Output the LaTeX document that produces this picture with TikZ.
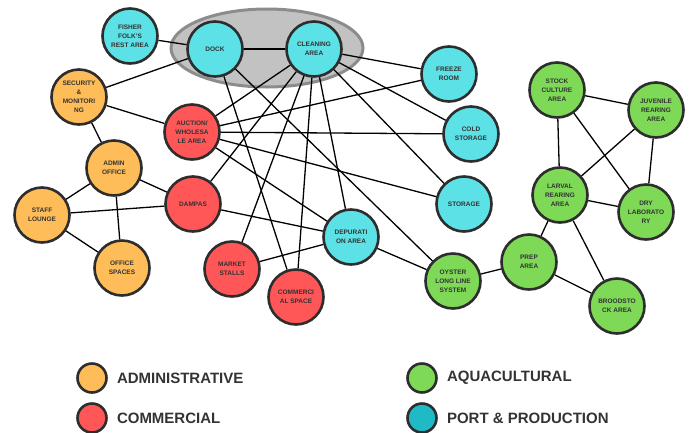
\documentclass[tikz,border=0pt]{standalone}
\usepackage{fontspec}
\setmainfont{Liberation Sans}
\usepackage{tikz}
\usetikzlibrary{positioning, shapes.geometric}

\definecolor{admcol}{HTML}{FFBD59}
\definecolor{comcol}{HTML}{FF5757}
\definecolor{aqucol}{HTML}{7ED957}
\definecolor{portcol}{HTML}{5CE1E6}
\definecolor{portdark}{HTML}{1FBAC6}
\definecolor{rimcol}{HTML}{2D2D2D}
\definecolor{labcol}{HTML}{333333}

\begin{document}
\begin{tikzpicture}[x=1pt, y=-1pt,
	area/.style={circle, draw=rimcol, line width=2.6pt, minimum size=55pt, inner sep=0pt, align=center, text=labcol, font=\fontsize{6.5}{9}\selectfont\bfseries},
	adm/.style={area, fill=admcol},
	com/.style={area, fill=comcol},
	aqu/.style={area, fill=aqucol},
	prt/.style={area, fill=portcol},
	link/.style={line width=1.3pt},
	legtext/.style={inner sep=0pt, text=labcol, font=\fontsize{15}{15}\selectfont\bfseries}]
					\useasboundingbox (0,0) rectangle (691,432);
					% port zone
					\node[ellipse, draw=black!45, fill=black!24, line width=3pt, minimum width=192pt, minimum height=78pt] (zone) at (267,48) {};
					
					\node[prt] (fisher) at (130,36) {FISHER\\FOLK’S\\REST AREA};
					\node[prt] (dock) at (215,49) {DOCK};
					\node[prt] (cleaning) at (314,49) {CLEANING\\AREA};
					\node[prt] (freeze) at (449,74) {FREEZE\\ROOM};
					\node[prt] (cold) at (471,134) {COLD\\STORAGE};
					\node[prt] (storage) at (464,204) {STORAGE};
					\node[prt] (depur) at (351,237) {DEPURATI\\ON AREA};
					
					\node[adm] (security) at (79,97) {SECURITY\\\&\\MONITORI\\NG};
					\node[adm] (admin) at (114,168) {ADMIN\\OFFICE};
					\node[adm] (staff) at (42,215) {STAFF\\LOUNGE};
					\node[adm] (office) at (122,268) {OFFICE\\SPACES};
					
					\node[com] (auction) at (192,132) {AUCTION/\\WHOLESA\\LE AREA};
					\node[com] (dampas) at (193,204) {DAMPAS};
					\node[com] (market) at (232,269) {MARKET\\STALLS};
					\node[com] (commspace) at (296,297) {COMMERCI\\AL SPACE};
					
					\node[aqu] (oyster) at (453,281) {OYSTER\\LONG LINE\\SYSTEM};
					\node[aqu] (prep) at (529,262) {PREP\\AREA};
					\node[aqu] (brood) at (617,306) {BROODSTO\\CK AREA};
					\node[aqu] (stock) at (557,90) {STOCK\\CULTURE\\AREA};
					\node[aqu] (juvenile) at (656,110) {JUVENILE\\REARING\\AREA};
					\node[aqu] (larval) at (560,195) {LARVAL\\REARING\\AREA};
					\node[aqu] (drylab) at (646,212) {DRY\\LABORATO\\RY};
					
					% port links
					\draw[link] (fisher) -- (dock);
					\draw[link] (dock) -- (cleaning);
					\draw[link] (dock) -- (security);
					\draw[link] (dock) -- (commspace);
					\draw[link] (dock) -- (oyster);
					\draw[link] (cleaning) -- (auction);
					\draw[link] (cleaning) -- (dampas);
					\draw[link] (cleaning) -- (market);
					\draw[link] (cleaning) -- (commspace);
					\draw[link] (cleaning) -- (depur);
					\draw[link] (cleaning) -- (freeze);
					\draw[link] (cleaning) -- (cold);
					\draw[link] (cleaning) -- (storage);
					\draw[link] (depur) -- (oyster);
					
					% admin and commercial links
					\draw[link] (security) -- (auction);
					\draw[link] (security) -- (admin);
					\draw[link] (admin) -- (staff);
					\draw[link] (admin) -- (dampas);
					\draw[link] (admin) -- (office);
					\draw[link] (staff) -- (dampas);
					\draw[link] (staff) -- (office);
					\draw[link] (auction) -- (freeze);
					\draw[link] (auction) -- (cold);
					\draw[link] (auction) -- (storage);
					\draw[link] (auction) -- (depur);
					\draw[link] (dampas) -- (depur);
					\draw[link] (market) -- (depur);
					
					% aquaculture links
					\draw[link] (oyster) -- (prep);
					\draw[link] (prep) -- (larval);
					\draw[link] (prep) -- (brood);
					\draw[link] (larval) -- (brood);
					\draw[link] (stock) -- (juvenile);
					\draw[link] (stock) -- (larval);
					\draw[link] (stock) -- (drylab);
					\draw[link] (juvenile) -- (larval);
					\draw[link] (juvenile) -- (drylab);
					\draw[link] (larval) -- (drylab);
					
					% legend
					\node[adm, minimum size=29pt] (lgadm) at (92,378) {};
					\node[com, minimum size=29pt] (lgcom) at (92,418) {};
					\node[aqu, minimum size=29pt] (lgaqu) at (422,378) {};
					\node[prt, fill=portdark, minimum size=29pt] (lgprt) at (422,418) {};
					\node[legtext, right=9pt of lgadm] (lgadmtxt) {ADMINISTRATIVE};
					\node[legtext, right=9pt of lgcom] (lgcomtxt) {COMMERCIAL};
					\node[legtext, right=9pt of lgaqu] (lgaqutxt) {AQUACULTURAL};
					\node[legtext, right=9pt of lgprt] (lgprttxt) {PORT \& PRODUCTION};
				\end{tikzpicture}
\end{document}
